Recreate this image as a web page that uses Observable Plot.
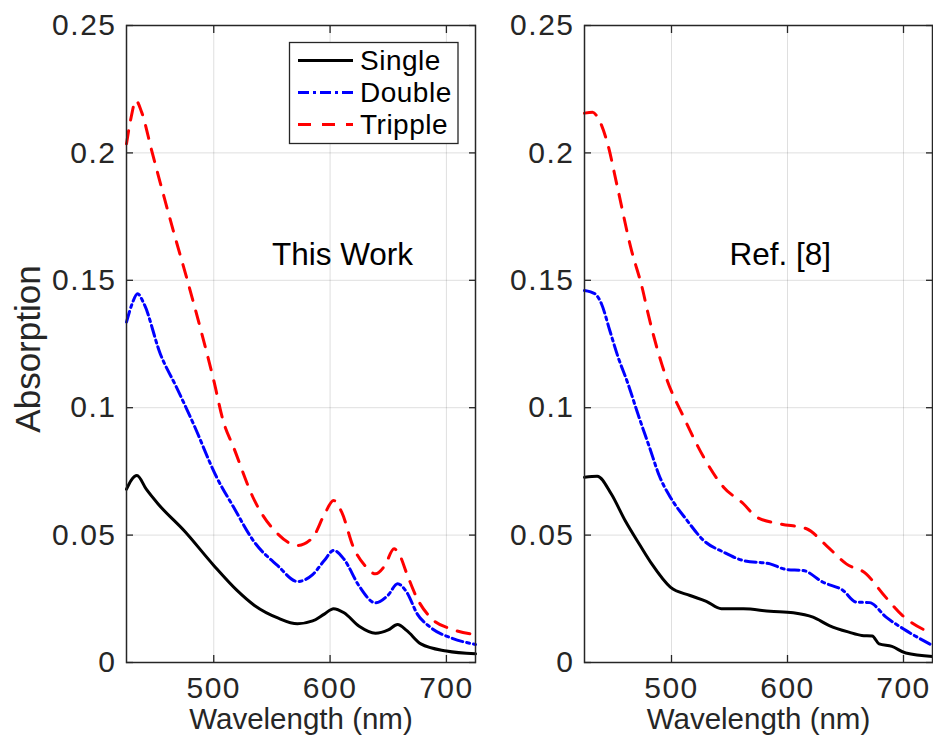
<!DOCTYPE html>
<html>
<head>
<meta charset="utf-8">
<script src="https://cdn.jsdelivr.net/npm/d3@7"></script>
<script src="https://cdn.jsdelivr.net/npm/@observablehq/plot@0.6"></script>
<style>
html,body{margin:0;padding:0;background:#fff;}
#wrap{position:relative;width:933px;height:745px;overflow:hidden;font-family:"Liberation Sans",Arial,Helvetica,sans-serif;}
.panel{position:absolute;top:0;}
g[aria-label="x-axis tick label"] text, g[aria-label="y-axis tick label"] text{letter-spacing:1.5px;}
g[aria-label="xlabel"] text{letter-spacing:2.4px;}
g[aria-label="ylabel"] text{letter-spacing:0.4px;}
g[aria-label="title"] text{letter-spacing:0.9px;}
#legend{position:absolute;left:0;top:0;}
</style>
</head>
<body>
<div id="wrap"></div>
<script>
// ---- chart data ----
const seriesNames = ["Single", "Double", "Tripple"];
const seriesColors = ["#000000", "#0000ff", "#ff0000"];
const seriesDashes = [null, "11,4,3,4", "13,11"];
const xTicks = [500, 600, 700];
const yTicks = [0, 0.05, 0.1, 0.15, 0.2, 0.25];
const xDomain = [425, 725];
const yDomain = [0, 0.25];
const panelTitles = ["This Work", "Ref. [8]"];
const titleX = 550;
const titleY = 0.16;
const xLabel = "Wavelength (nm)";
const yLabel = "Absorption";

// "This Work" panel
const workSingleW = [425,429,434,442,452,475,500,520,535,555,572,585,595,603,612,625,639,650,658,666,678,700,725];
const workSingleA = [0.068,0.0715,0.0734,0.068,0.0623,0.0515,0.0381,0.0283,0.0224,0.0175,0.0152,0.0163,0.019,0.0211,0.0195,0.0142,0.0115,0.0128,0.0149,0.0125,0.0073,0.0045,0.0034];
const workDoubleW = [425,430,434.5,440,454,468,482.5,502.5,517,535,555,572,585,595,603,612,625,639,650,658,666,675,686,705,725];
const workDoubleA = [0.1336,0.141,0.1447,0.1408,0.1212,0.108,0.0937,0.0727,0.061,0.0472,0.038,0.0318,0.0345,0.040,0.044,0.0405,0.030,0.0234,0.0265,0.0309,0.0275,0.019,0.0139,0.0095,0.0071];
const workTrippleW = [425,429,433,438,447,466,477,489,500,508,517,535,555,572,585,595,603,610,620,630,639,647,655,660,666,675,686,705,725];
const workTrippleA = [0.2036,0.214,0.2206,0.216,0.2003,0.1682,0.1505,0.1303,0.1107,0.095,0.0845,0.0636,0.0505,0.0459,0.049,0.058,0.0636,0.059,0.0453,0.038,0.0348,0.038,0.0446,0.042,0.0348,0.025,0.0178,0.013,0.011];

// "Ref. [8]" panel
const refSingleW = [425,436,448,460,473,483,499,516,530,543,562,585,605,622,636,653,664,673,679,690,702,725];
const refSingleA = [0.0727,0.0731,0.0662,0.0557,0.0459,0.0387,0.0296,0.0263,0.024,0.0211,0.0211,0.0201,0.0195,0.0178,0.0145,0.0119,0.0106,0.0104,0.0073,0.0063,0.0037,0.0024];
const refDoubleW = [425,434,439.6,446.8,454,462.5,471,481,490,499,513.5,527.7,545,562,585,599,613.5,630.6,647.8,659.3,670.7,685,702,725];
const refDoubleA = [0.146,0.1447,0.1408,0.1303,0.1198,0.1094,0.0976,0.0845,0.0727,0.0649,0.0557,0.0479,0.0433,0.04,0.0387,0.0365,0.0361,0.0315,0.0283,0.0237,0.0235,0.0178,0.0126,0.0067];
const refTrippleW = [425,432,436.3,444.9,453.4,464.8,475.3,479.2,496.3,510.5,527.7,544.9,562,573.5,593.5,616.4,633.5,650.7,667.8,682.1,699.2,725];
const refTrippleA = [0.2156,0.216,0.214,0.2036,0.1865,0.163,0.146,0.1381,0.1107,0.0963,0.0806,0.0688,0.0623,0.057,0.0544,0.0525,0.0459,0.0387,0.0348,0.027,0.0184,0.0113];

// ---- build ----
const pairs = (ws, as) => ws.map((w, i) => ({w, a: as[i]}));
const panels = [
  [pairs(workSingleW, workSingleA), pairs(workDoubleW, workDoubleA), pairs(workTrippleW, workTrippleA)],
  [pairs(refSingleW, refSingleA), pairs(refDoubleW, refDoubleA), pairs(refTrippleW, refTrippleA)]
];
const axisColor = "#262626";
const fmt = d => String(d);

function makePanel(series, title, withYLabel, width, mLeft, mRight) {
  const marks = [
    Plot.gridX(xTicks, {stroke: axisColor, strokeOpacity: 0.15, strokeWidth: 1}),
    Plot.gridY(yTicks, {stroke: axisColor, strokeOpacity: 0.15, strokeWidth: 1}),
    ...series.map((s, i) => Plot.line(s, {
      x: "w", y: "a", stroke: seriesColors[i], strokeWidth: 3,
      strokeDasharray: seriesDashes[i], curve: "monotone-x"
    })),
    Plot.text([{t: title, x: titleX, y: titleY}], {
      x: "x", y: "y", text: "t", textAnchor: "start", fontSize: 31.5, fill: "#000", ariaLabel: "title"
    }),
    Plot.frame({stroke: axisColor, strokeWidth: 1.5}),
    Plot.axisY(yTicks, {anchor: "left", tickSize: -7, tickPadding: 17, tickFormat: fmt, label: null, stroke: axisColor, fill: axisColor, strokeWidth: 1.3}),
    Plot.axisY(yTicks, {anchor: "right", tickSize: -7, tickFormat: () => "", label: null, stroke: axisColor, strokeWidth: 1.3}),
    Plot.axisX(xTicks, {anchor: "bottom", tickSize: -7, tickPadding: 21.5, tickFormat: fmt, label: null, stroke: axisColor, fill: axisColor, strokeWidth: 1.3}),
    Plot.axisX(xTicks, {anchor: "top", tickSize: -7, tickFormat: () => "", label: null, stroke: axisColor, strokeWidth: 1.3}),
    Plot.text([xLabel], {frameAnchor: "bottom", textAnchor: "middle", lineAnchor: "middle", dy: 57.5, fontSize: 29.5, fill: axisColor, ariaLabel: "xlabel"})
  ];
  if (withYLabel) {
    marks.push(Plot.text([yLabel], {frameAnchor: "left", textAnchor: "middle", lineAnchor: "middle", rotate: -90, dx: -98, dy: 5, fontSize: 35, fill: axisColor, ariaLabel: "ylabel"}));
  }
  return Plot.plot({
    width, height: 745,
    marginLeft: mLeft, marginRight: mRight, marginTop: 25, marginBottom: 83,
    x: {domain: xDomain, label: null},
    y: {domain: yDomain, label: null},
    style: {fontFamily: '"Liberation Sans", Arial, Helvetica, sans-serif', fontSize: "30px", color: axisColor, background: "transparent", overflow: "visible"},
    marks
  });
}

const wrap = document.getElementById("wrap");
const left = makePanel(panels[0], panelTitles[0], true, 480, 126, 5);
left.classList.add("panel"); left.style.left = "0px";
wrap.appendChild(left);
const right = makePanel(panels[1], panelTitles[1], false, 463, 114, 1);
right.classList.add("panel"); right.style.left = "470px";
wrap.appendChild(right);

// legend (inside left panel, top right)
const lg = d3.select(wrap).append("svg").attr("id", "legend").attr("width", 480).attr("height", 200);
lg.append("rect").attr("x", 289.5).attr("y", 42.5).attr("width", 168.5).attr("height", 101)
  .attr("fill", "#fff").attr("stroke", axisColor).attr("stroke-width", 1.3);
seriesNames.forEach((name, i) => {
  const cy = 60.5 + i * 32;
  lg.append("line").attr("x1", 298).attr("x2", 353).attr("y1", cy).attr("y2", cy)
    .attr("stroke", seriesColors[i]).attr("stroke-width", 3)
    .attr("stroke-dasharray", seriesDashes[i]);
  lg.append("text").attr("x", 360).attr("y", cy).attr("dy", "0.35em")
    .attr("font-size", 28).attr("fill", "#000").style("letter-spacing", "0.5px")
    .style("font-family", '"Liberation Sans", Arial, Helvetica, sans-serif').text(name);
});
</script>
</body>
</html>
